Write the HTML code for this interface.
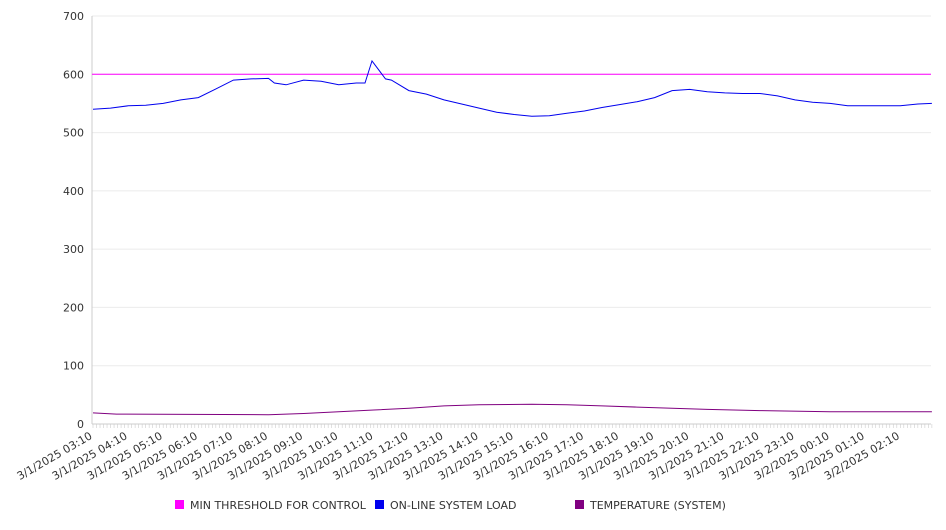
<!DOCTYPE html>
<html><head><meta charset="utf-8"><style>
body{margin:0;background:#fff;font-family:"DejaVu Sans","Liberation Sans",sans-serif}
svg text{font-family:"DejaVu Sans","Liberation Sans",sans-serif;font-size:11px;fill:#333}
</style></head><body>
<svg id="chart" width="946" height="526" xmlns="http://www.w3.org/2000/svg">
<g id="grid"></g>
<g id="axes"></g>
<g id="series"></g>
<g id="legend"></g>
</svg>
<script>
const yTicks=[0,100,200,300,400,500,600,700];
const xLabels=["3/1/2025 03:10","3/1/2025 04:10","3/1/2025 05:10","3/1/2025 06:10","3/1/2025 07:10","3/1/2025 08:10","3/1/2025 09:10","3/1/2025 10:10","3/1/2025 11:10","3/1/2025 12:10","3/1/2025 13:10","3/1/2025 14:10","3/1/2025 15:10","3/1/2025 16:10","3/1/2025 17:10","3/1/2025 18:10","3/1/2025 19:10","3/1/2025 20:10","3/1/2025 21:10","3/1/2025 22:10","3/1/2025 23:10","3/2/2025 00:10","3/2/2025 01:10","3/2/2025 02:10"];
const threshold=600;
const loadMin=[0,30,60,90,120,150,180,210,240,270,300,310,330,360,390,420,450,465,477,500,510,540,570,600,630,660,690,720,750,780,810,840,870,900,930,960,990,1020,1050,1080,1110,1140,1170,1200,1230,1260,1290,1320,1350,1380,1410,1434];
const loadVal=[540,542,546,547,550,556,560,575,590,592,593,585,582,590,588,582,585,585,623,592,590,572,566,556,549,542,535,531,528,529,533,537,543,548,553,560,572,574,570,568,567,567,563,556,552,550,546,546,546,546,549,550];
const tempMin=[0,40,300,360,420,480,540,600,660,750,810,870,930,990,1050,1140,1260,1434];
const tempVal=[19,17,16,18,21,24,27,31,33,34,33,31,29,27,25,23,21,21];
const legendNames=["MIN THRESHOLD FOR CONTROL","ON-LINE SYSTEM LOAD","TEMPERATURE (SYSTEM)"];
const legendColors=["#ff00ff","#0000ee","#800080"];

const X0=92,X1=931,Y0=424,Y1=16,MAXM=1434;
const xs=m=>X0+1+(m/60)*35.1;
const ys=v=>Y0-(v/700)*(Y0-Y1);
const NS="http://www.w3.org/2000/svg";
function mk(t,a,p){const e=document.createElementNS(NS,t);for(const k in a)e.setAttribute(k,a[k]);p.appendChild(e);return e;}
const grid=document.getElementById('grid'),axes=document.getElementById('axes'),series=document.getElementById('series'),legend=document.getElementById('legend');
yTicks.forEach(v=>{
  const l=mk('line',{x1:X0,x2:X1,y1:ys(v),y2:ys(v),stroke:'#ebebeb'},grid);
  
  
  const t=mk('text',{x:X0-8,y:ys(v)+4,'text-anchor':'end'},axes);t.textContent=v;
  
  
});
const ax=mk('line',{x1:X0,x2:X0,y1:Y1,y2:Y0,stroke:'#ccc'},axes);


const bx=mk('line',{x1:X0,x2:X1,y1:Y0,y2:Y0,stroke:'#ccc'},axes);


for(let m=0;m<=MAXM;m+=6){mk('line',{x1:xs(m),x2:xs(m),y1:Y0,y2:Y0+4,stroke:'#ccc','stroke-width':0.6},axes);}
xLabels.forEach((s,i)=>{
  const x=xs(i*60);
  const t=mk('text',{x:x,y:Y0+14,'text-anchor':'end',transform:`rotate(-30 ${x} ${Y0+14})`},axes);t.textContent=s;
  
  
});
const th=mk('line',{x1:X0,x2:X1,y1:ys(threshold),y2:ys(threshold),stroke:legendColors[0],'stroke-width':1},series);


function path(ms,vs,c,name){
  const d=ms.map((m,i)=>(i?'L':'M')+xs(m).toFixed(1)+','+ys(vs[i]).toFixed(1)).join('');
  const p=mk('path',{d:d,fill:'none',stroke:c,'stroke-width':1},series);
  
  
}
path(loadMin,loadVal,legendColors[1],'system-load-line');
path(tempMin,tempVal,legendColors[2],'temperature-line');
const lx=[175,375,575];
legendNames.forEach((n,i)=>{
  const g=mk('g',{},legend);
  
  
  mk('rect',{x:lx[i],y:500,width:9,height:9,fill:legendColors[i]},g);
  const t=mk('text',{x:lx[i]+15,y:509},g);t.textContent=n;
});
</script>
</body></html>
